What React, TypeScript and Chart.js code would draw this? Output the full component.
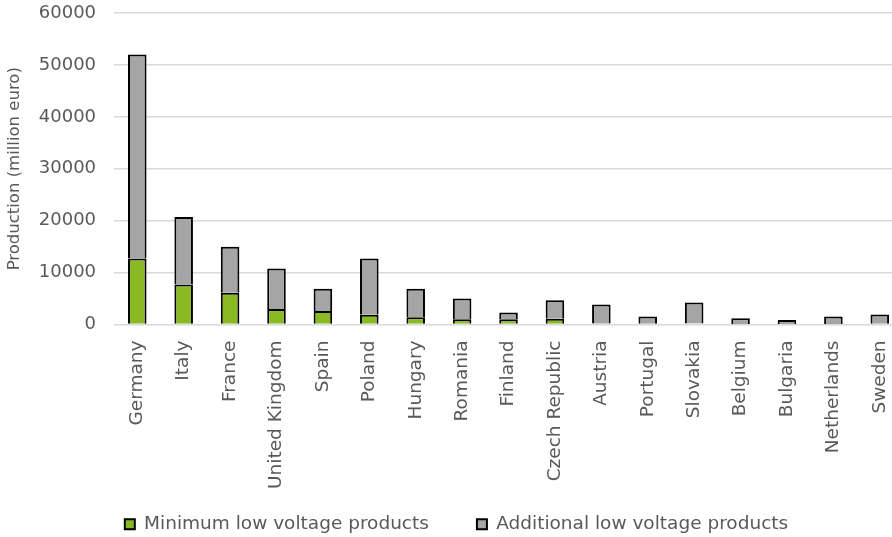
import React, { useEffect, useRef } from "react";
import { Chart, registerables } from "chart.js";

Chart.register(...registerables);

// Low voltage product output by country, million euro
const countries = [
  "Germany",
  "Italy",
  "France",
  "United Kingdom",
  "Spain",
  "Poland",
  "Hungary",
  "Romania",
  "Finland",
  "Czech Republic",
  "Austria",
  "Portugal",
  "Slovakia",
  "Belgium",
  "Bulgaria",
  "Netherlands",
  "Sweden",
];

const minimumProducts = [
  12700, 7700, 6100, 3000, 2600, 1900, 1400, 1000, 1000, 1100, 250, 150, 200, 100, 100, 100, 150,
];

const additionalProducts = [
  39300, 13000, 8900, 7800, 4300, 10800, 5500, 4000, 1300, 3550, 3600, 1400, 4050, 1100, 750, 1450, 1800,
];

const yTicks = [0, 10000, 20000, 30000, 40000, 50000, 60000];

const FONT = "'DejaVu Sans', Verdana, sans-serif";
const TEXT = "#595959";

// Legend box: fixed reserved height, drawn slightly lower and to the right
const LEGEND_HEIGHT = 48;
const LEGEND_TEXT_Y = 524;
const LEGEND_SHIFT_X = 5;

const legendPlacement = {
  id: "legendPlacement",
  beforeInit(chart: any) {
    const legend = chart.legend;
    if (!legend) return;
    const fit = legend.fit;
    legend.fit = function () {
      fit.call(this);
      this.height = LEGEND_HEIGHT;
    };
  },
  afterLayout(chart: any) {
    const legend = chart.legend;
    if (!legend) return;
    const pad = legend.options.labels.padding;
    const itemH = legend._itemHeight || 18;
    legend.top = LEGEND_TEXT_Y - pad - itemH / 2;
    legend.bottom = chart.height;
    legend.left += LEGEND_SHIFT_X;
    legend.right += LEGEND_SHIFT_X;
  },
};

export default function App() {
  const canvasRef = useRef<HTMLCanvasElement | null>(null);

  useEffect(() => {
    if (!canvasRef.current) return;
    const chart = new Chart(canvasRef.current, {
      type: "bar",
      data: {
        labels: countries,
        datasets: [
          {
            label: "Minimum low voltage products",
            data: minimumProducts,
            backgroundColor: "#89ba24",
            borderColor: "#000000",
            borderWidth: 2,
            categoryPercentage: 1,
            barPercentage: 0.4,
          },
          {
            label: "Additional low voltage products",
            data: additionalProducts,
            backgroundColor: "#a5a5a5",
            borderColor: "#000000",
            borderWidth: 2,
            categoryPercentage: 1,
            barPercentage: 0.4,
          },
        ],
      },
      plugins: [legendPlacement],
      options: {
        animation: false,
        responsive: true,
        maintainAspectRatio: false,
        layout: { padding: { top: 13, right: 2, left: 0, bottom: 0 } },
        plugins: {
          tooltip: { enabled: false },
          legend: {
            position: "bottom",
            labels: {
              boxWidth: 10,
              boxHeight: 10,
              padding: 48,
              color: TEXT,
              font: { family: FONT, size: 18.5 },
            },
          },
        },
        scales: {
          x: {
            stacked: true,
            grid: {
              display: true,
              drawOnChartArea: false,
              drawTicks: true,
              tickLength: 16,
              color: "rgba(0,0,0,0)",
              tickColor: "rgba(0,0,0,0)",
            },
            border: { display: false },
            ticks: {
              color: TEXT,
              font: { family: FONT, size: 18.5 },
              minRotation: 90,
              maxRotation: 90,
              padding: 0,
              autoSkip: false,
            },
          },
          y: {
            stacked: true,
            min: 0,
            max: 60000,
            afterBuildTicks: (axis: any) => {
              axis.ticks = yTicks.map((v) => ({ value: v }));
            },
            grid: {
              color: "#d9d9d9",
              lineWidth: 1.5,
              drawTicks: true,
              tickLength: 18,
              tickColor: "rgba(0,0,0,0)",
            },
            border: { display: false },
            ticks: {
              color: TEXT,
              font: { family: FONT, size: 18 },
              padding: 0,
              callback: (v: any) => String(v),
            },
            title: {
              display: true,
              text: "Production (million euro)",
              color: TEXT,
              font: { family: FONT, size: 16.5 },
              padding: { top: 5, bottom: 14 },
            },
          },
        },
      },
    });
    return () => chart.destroy();
  }, []);

  return (
    <div
      style={{
        position: "fixed",
        left: 0,
        top: 0,
        width: 892,
        height: 537,
        overflow: "hidden",
        background: "#ffffff",
      }}
    >
      <div style={{ position: "relative", width: 905, height: 537 }}>
        <canvas ref={canvasRef} />
      </div>
    </div>
  );
}
